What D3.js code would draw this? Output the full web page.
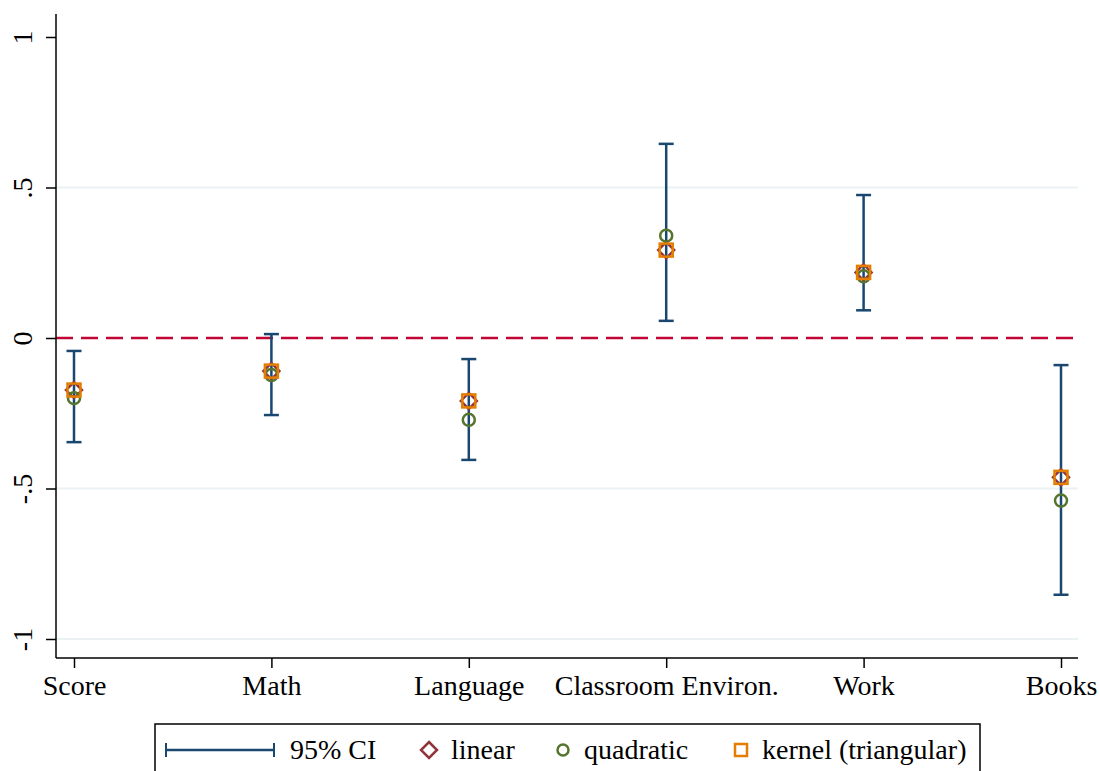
<!DOCTYPE html>
<html>
<head>
<meta charset="utf-8">
<script src="https://cdn.jsdelivr.net/npm/d3@7"></script>
<style>
  body { margin: 0; background: #fff; }
  svg { display: block; }
  svg text { font-family: "Liberation Serif", "DejaVu Serif", serif; }
</style>
</head>
<body>
<svg id="chart" width="1100" height="771"></svg>
<script>
// outcomes along the x axis
const categories = ['Score', 'Math', 'Language', 'Classroom Environ.', 'Work', 'Books'];
// 95% CI bounds
const ciLow = [-0.346, -0.256, -0.405, 0.057, 0.092, -0.853];
const ciHigh = [-0.043, 0.013, -0.070, 0.645, 0.475, -0.090];
// point estimates
const linear = [-0.173, -0.110, -0.209, 0.292, 0.218, -0.463];
const quadratic = [-0.200, -0.123, -0.272, 0.340, 0.205, -0.540];
const kernel = [-0.173, -0.110, -0.209, 0.292, 0.218, -0.463];
const yTicks = [-1, -0.5, 0, 0.5, 1];
const yTickLabels = ['-1', '-.5', '0', '.5', '1'];

const navy = '#1a476f', maroon = '#90353b', green = '#55752f', orange = '#e37e00', red = '#c10534';
const fontSize = 28;

const svg = d3.select('#chart');
const plotLeft = 56, plotRight = 1078, plotTop = 14, plotBottom = 658;

const y = d3.scaleLinear().domain([-1, 1]).range([639, 37]);
const x = d3.scalePoint().domain(categories).range([74, 1061]);

// grid lines
svg.append('g').selectAll('line')
  .data(yTicks.filter(d => d !== 0 && d !== 1))
  .enter().append('line')
  .attr('x1', plotLeft).attr('x2', plotRight)
  .attr('y1', d => y(d)).attr('y2', d => y(d))
  .attr('stroke', '#eaf2f3').attr('stroke-width', 2);

// zero reference
svg.append('line')
  .attr('x1', plotLeft).attr('x2', plotRight)
  .attr('y1', y(0)).attr('y2', y(0))
  .attr('stroke', red).attr('stroke-width', 2.5)
  .attr('stroke-dasharray', '17,8');

// y axis
const yAxis = svg.append('g')
  .attr('transform', 'translate(' + plotLeft + ',0)')
  .call(d3.axisLeft(y).tickValues(yTicks).tickSize(10).tickSizeOuter(0)
    .tickFormat((d, i) => yTickLabels[i]));
yAxis.attr('font-family', null).attr('font-size', null);
yAxis.select('.domain').remove();
yAxis.selectAll('.tick line').attr('stroke', '#000').attr('stroke-width', 1.5);
yAxis.selectAll('.tick text')
  .attr('font-size', fontSize).attr('fill', '#000')
  .attr('transform', 'rotate(-90)')
  .attr('x', 0).attr('y', -24)
  .attr('text-anchor', 'middle').attr('dy', '0');
svg.append('line').attr('x1', plotLeft).attr('x2', plotLeft).attr('y1', plotTop).attr('y2', plotBottom)
  .attr('stroke', '#000').attr('stroke-width', 1.5);

// x axis
const xAxis = svg.append('g')
  .attr('transform', 'translate(0,' + plotBottom + ')')
  .call(d3.axisBottom(x).tickSize(10).tickSizeOuter(0));
xAxis.attr('font-family', null).attr('font-size', null);
xAxis.select('.domain').remove();
xAxis.selectAll('.tick line').attr('stroke', '#000').attr('stroke-width', 1.5);
xAxis.selectAll('.tick text')
  .attr('font-size', fontSize).attr('fill', '#000')
  .attr('y', 37).attr('dy', '0');
svg.append('line').attr('x1', plotLeft).attr('x2', plotRight).attr('y1', plotBottom).attr('y2', plotBottom)
  .attr('stroke', '#000').attr('stroke-width', 1.5);

// confidence intervals
const ci = svg.append('g').selectAll('g')
  .data(categories).enter().append('g')
  .attr('stroke', navy).attr('stroke-width', 2.5);
ci.append('line')
  .attr('x1', d => x(d)).attr('x2', d => x(d))
  .attr('y1', (d, i) => y(ciLow[i])).attr('y2', (d, i) => y(ciHigh[i]));
ci.append('line')
  .attr('x1', d => x(d) - 7.5).attr('x2', d => x(d) + 7.5)
  .attr('y1', (d, i) => y(ciLow[i])).attr('y2', (d, i) => y(ciLow[i]));
ci.append('line')
  .attr('x1', d => x(d) - 7.5).attr('x2', d => x(d) + 7.5)
  .attr('y1', (d, i) => y(ciHigh[i])).attr('y2', (d, i) => y(ciHigh[i]));

const diamond = 'M0,-8L8,0L0,8L-8,0Z';

// linear (diamonds)
svg.append('g').selectAll('path')
  .data(linear).enter().append('path')
  .attr('d', diamond)
  .attr('transform', (d, i) => 'translate(' + x(categories[i]) + ',' + y(d) + ')')
  .attr('fill', 'none').attr('stroke', maroon).attr('stroke-width', 2.5);

// quadratic (circles)
svg.append('g').selectAll('circle')
  .data(quadratic).enter().append('circle')
  .attr('cx', (d, i) => x(categories[i])).attr('cy', d => y(d)).attr('r', 6)
  .attr('fill', 'none').attr('stroke', green).attr('stroke-width', 2.5);

// kernel (squares)
svg.append('g').selectAll('rect')
  .data(kernel).enter().append('rect')
  .attr('x', (d, i) => x(categories[i]) - 6.5).attr('y', d => y(d) - 6.5)
  .attr('width', 13).attr('height', 13)
  .attr('fill', 'none').attr('stroke', orange).attr('stroke-width', 2.5);

// legend
const lg = svg.append('g');
lg.append('rect').attr('x', 155).attr('y', 724).attr('width', 825).attr('height', 60)
  .attr('fill', '#fff').attr('stroke', '#000').attr('stroke-width', 1.5);
const ly = 750;
lg.append('line').attr('x1', 166).attr('x2', 274).attr('y1', ly).attr('y2', ly)
  .attr('stroke', navy).attr('stroke-width', 2.5);
lg.append('line').attr('x1', 166).attr('x2', 166).attr('y1', ly - 7).attr('y2', ly + 7)
  .attr('stroke', navy).attr('stroke-width', 2);
lg.append('line').attr('x1', 274).attr('x2', 274).attr('y1', ly - 7).attr('y2', ly + 7)
  .attr('stroke', navy).attr('stroke-width', 2);
lg.append('path').attr('d', diamond)
  .attr('transform', 'translate(429,' + ly + ')')
  .attr('fill', 'none').attr('stroke', maroon).attr('stroke-width', 2.5);
lg.append('circle').attr('cx', 563).attr('cy', ly).attr('r', 5.5)
  .attr('fill', 'none').attr('stroke', green).attr('stroke-width', 2.5);
lg.append('rect').attr('x', 735).attr('y', ly - 6).attr('width', 12).attr('height', 12)
  .attr('fill', 'none').attr('stroke', orange).attr('stroke-width', 2.5);
const legendText = [['95% CI', 290], ['linear', 451], ['quadratic', 584], ['kernel (triangular)', 762]];
lg.selectAll('text.lt').data(legendText).enter().append('text')
  .attr('x', d => d[1]).attr('y', ly + 9)
  .attr('font-size', fontSize).attr('fill', '#000')
  .text(d => d[0]);
</script>
</body>
</html>
